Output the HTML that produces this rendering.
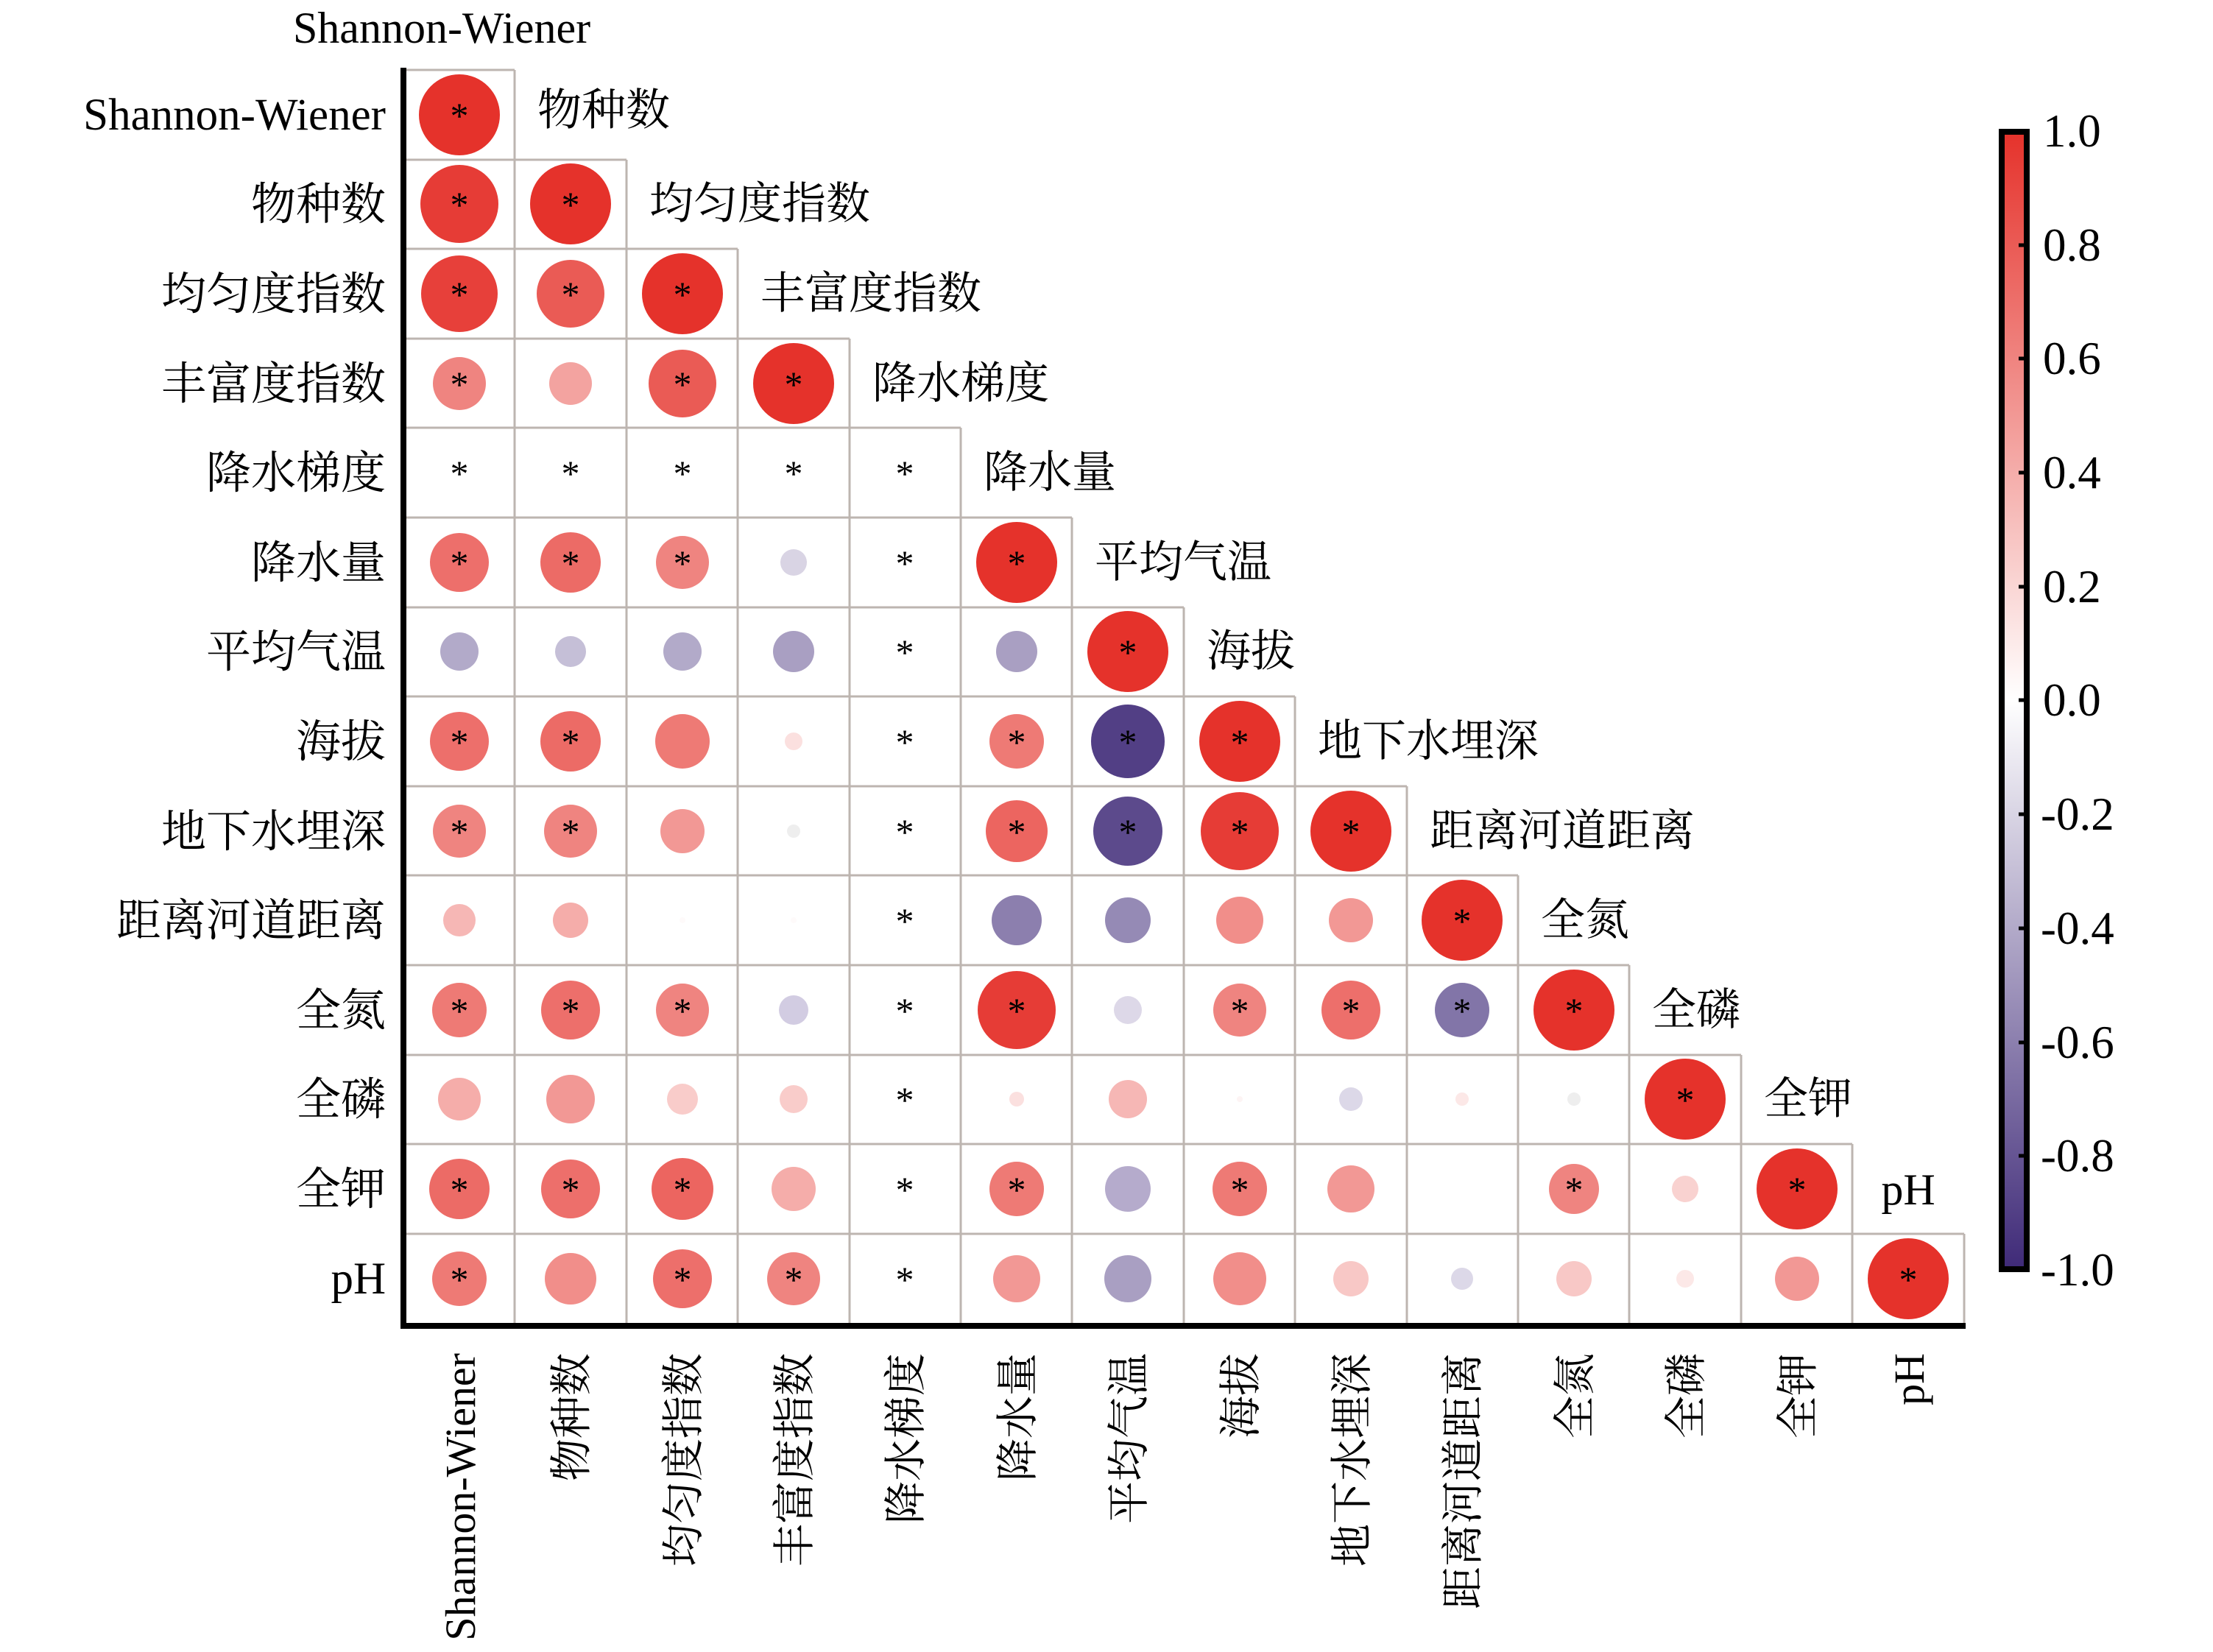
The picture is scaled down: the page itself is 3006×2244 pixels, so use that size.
<!DOCTYPE html>
<html><head><meta charset="utf-8"><style>
html,body{margin:0;padding:0;background:#fff}
svg{display:block}
text{font-family:"Liberation Serif","Noto Serif CJK SC",serif;fill:#000}
.s{font-size:50px;text-anchor:middle}
.l{font-size:61px;text-anchor:end}
.d{font-size:60px}
.b{font-size:58px;text-anchor:end}
.c{font-size:63px}
</style></head><body>
<svg width="3006" height="2244" viewBox="0 0 3006 2244" xmlns="http://www.w3.org/2000/svg">
<defs><linearGradient id="g" x1="0" y1="0" x2="0" y2="1">
<stop offset="0" stop-color="#e5322b"/><stop offset="0.5" stop-color="#ffffff"/><stop offset="1" stop-color="#3f2a78"/></linearGradient></defs>
<g stroke="#bdb5b0" stroke-width="3" fill="none">
<line x1="548" y1="95" x2="699" y2="95"/><line x1="548" y1="217" x2="851" y2="217"/><line x1="548" y1="338" x2="1002" y2="338"/><line x1="548" y1="460" x2="1154" y2="460"/><line x1="548" y1="581" x2="1305" y2="581"/><line x1="548" y1="703" x2="1456" y2="703"/><line x1="548" y1="825" x2="1608" y2="825"/><line x1="548" y1="946" x2="1759" y2="946"/><line x1="548" y1="1068" x2="1911" y2="1068"/><line x1="548" y1="1189" x2="2062" y2="1189"/><line x1="548" y1="1311" x2="2213" y2="1311"/><line x1="548" y1="1433" x2="2365" y2="1433"/><line x1="548" y1="1554" x2="2516" y2="1554"/><line x1="548" y1="1676" x2="2668" y2="1676"/>
<line x1="699" y1="95" x2="699" y2="1800"/><line x1="851" y1="217" x2="851" y2="1800"/><line x1="1002" y1="338" x2="1002" y2="1800"/><line x1="1154" y1="460" x2="1154" y2="1800"/><line x1="1305" y1="581" x2="1305" y2="1800"/><line x1="1456" y1="703" x2="1456" y2="1800"/><line x1="1608" y1="825" x2="1608" y2="1800"/><line x1="1759" y1="946" x2="1759" y2="1800"/><line x1="1911" y1="1068" x2="1911" y2="1800"/><line x1="2062" y1="1189" x2="2062" y2="1800"/><line x1="2213" y1="1311" x2="2213" y2="1800"/><line x1="2365" y1="1433" x2="2365" y2="1800"/><line x1="2516" y1="1554" x2="2516" y2="1800"/><line x1="2668" y1="1676" x2="2668" y2="1800"/>
</g>
<line x1="548" y1="92" x2="548" y2="1805" stroke="#000" stroke-width="8"/>
<line x1="544" y1="1801" x2="2670" y2="1801" stroke="#000" stroke-width="8"/>
<g>
<circle cx="624" cy="156" r="55" fill="#e5322b"/>
<circle cx="624" cy="277" r="53" fill="#e63c36"/><circle cx="775" cy="277" r="55" fill="#e5322b"/>
<circle cx="624" cy="399" r="52" fill="#e7403a"/><circle cx="775" cy="399" r="46" fill="#ea5b55"/><circle cx="927" cy="399" r="55" fill="#e5322b"/>
<circle cx="624" cy="521" r="36" fill="#ef8480"/><circle cx="775" cy="521" r="29" fill="#f3a3a0"/><circle cx="927" cy="521" r="46" fill="#ea5b55"/><circle cx="1078" cy="521" r="55" fill="#e5322b"/>
<circle cx="624" cy="764" r="40" fill="#ed6f6b"/><circle cx="775" cy="764" r="41" fill="#ec6b66"/><circle cx="927" cy="764" r="36" fill="#ef8480"/><circle cx="1078" cy="764" r="18" fill="#d9d4e4"/><circle cx="1381" cy="764" r="55" fill="#e5322b"/>
<circle cx="624" cy="885" r="26" fill="#b2aac9"/><circle cx="775" cy="885" r="21" fill="#c5bfd7"/><circle cx="927" cy="885" r="26" fill="#b2aac9"/><circle cx="1078" cy="885" r="28" fill="#a99fc2"/><circle cx="1381" cy="885" r="28" fill="#a99fc2"/><circle cx="1532" cy="885" r="55" fill="#e5322b"/>
<circle cx="624" cy="1007" r="40" fill="#ed6f6b"/><circle cx="775" cy="1007" r="41" fill="#ec6b66"/><circle cx="927" cy="1007" r="37" fill="#ee7a75"/><circle cx="1078" cy="1007" r="12" fill="#fbe0df"/><circle cx="1381" cy="1007" r="37" fill="#ee7a75"/><circle cx="1532" cy="1007" r="50" fill="#523f85"/><circle cx="1684" cy="1007" r="55" fill="#e5322b"/>
<circle cx="624" cy="1129" r="36" fill="#ef8480"/><circle cx="775" cy="1129" r="36" fill="#ef8480"/><circle cx="927" cy="1129" r="30" fill="#f29895"/><circle cx="1078" cy="1129" r="9" fill="#eeeeee"/><circle cx="1381" cy="1129" r="42" fill="#ec6560"/><circle cx="1532" cy="1129" r="47" fill="#5c4a8c"/><circle cx="1684" cy="1129" r="53" fill="#e63c36"/><circle cx="1835" cy="1129" r="55" fill="#e5322b"/>
<circle cx="624" cy="1250" r="22" fill="#f6b7b5"/><circle cx="775" cy="1250" r="24" fill="#f5adaa"/><circle cx="927" cy="1250" r="4" fill="#fefafa"/><circle cx="1078" cy="1250" r="4" fill="#fefafa"/><circle cx="1381" cy="1250" r="34" fill="#8c7fae"/><circle cx="1532" cy="1250" r="31" fill="#958ab5"/><circle cx="1684" cy="1250" r="32" fill="#f18e8a"/><circle cx="1835" cy="1250" r="30" fill="#f29895"/><circle cx="1986" cy="1250" r="55" fill="#e5322b"/>
<circle cx="624" cy="1372" r="37" fill="#ee7a75"/><circle cx="775" cy="1372" r="40" fill="#ed6f6b"/><circle cx="927" cy="1372" r="36" fill="#ef8480"/><circle cx="1078" cy="1372" r="20" fill="#d2cce2"/><circle cx="1381" cy="1372" r="53" fill="#e63c36"/><circle cx="1532" cy="1372" r="19" fill="#ddd8e8"/><circle cx="1684" cy="1372" r="36" fill="#ef8480"/><circle cx="1835" cy="1372" r="40" fill="#ed6f6b"/><circle cx="1986" cy="1372" r="37" fill="#8275a8"/><circle cx="2138" cy="1372" r="55" fill="#e5322b"/>
<circle cx="624" cy="1493" r="29" fill="#f5adaa"/><circle cx="775" cy="1493" r="33" fill="#f29895"/><circle cx="927" cy="1493" r="21" fill="#f9ccca"/><circle cx="1078" cy="1493" r="19" fill="#f9ccca"/><circle cx="1381" cy="1493" r="10" fill="#fbe0df"/><circle cx="1532" cy="1493" r="26" fill="#f6b7b5"/><circle cx="1684" cy="1493" r="4" fill="#fdf4f4"/><circle cx="1835" cy="1493" r="16" fill="#dcd8e8"/><circle cx="1986" cy="1493" r="9" fill="#fce8e7"/><circle cx="2138" cy="1493" r="9" fill="#eeeeee"/><circle cx="2289" cy="1493" r="55" fill="#e5322b"/>
<circle cx="624" cy="1615" r="41" fill="#ec6b66"/><circle cx="775" cy="1615" r="40" fill="#ed6f6b"/><circle cx="927" cy="1615" r="42" fill="#ec6560"/><circle cx="1078" cy="1615" r="30" fill="#f5adaa"/><circle cx="1381" cy="1615" r="37" fill="#ee7a75"/><circle cx="1532" cy="1615" r="31" fill="#b5abcc"/><circle cx="1684" cy="1615" r="37" fill="#ee7a75"/><circle cx="1835" cy="1615" r="32" fill="#f29895"/><circle cx="2138" cy="1615" r="34" fill="#ef8480"/><circle cx="2289" cy="1615" r="18" fill="#f9d2d0"/><circle cx="2441" cy="1615" r="55" fill="#e5322b"/>
<circle cx="624" cy="1737" r="37" fill="#ee7a75"/><circle cx="775" cy="1737" r="35" fill="#f18e8a"/><circle cx="927" cy="1737" r="40" fill="#ed6f6b"/><circle cx="1078" cy="1737" r="36" fill="#ef8480"/><circle cx="1381" cy="1737" r="32" fill="#f29895"/><circle cx="1532" cy="1737" r="32" fill="#a99fc2"/><circle cx="1684" cy="1737" r="36" fill="#f18e8a"/><circle cx="1835" cy="1737" r="24" fill="#f8c8c6"/><circle cx="1986" cy="1737" r="15" fill="#dcd8e8"/><circle cx="2138" cy="1737" r="24" fill="#f8c8c6"/><circle cx="2289" cy="1737" r="12" fill="#fce8e7"/><circle cx="2441" cy="1737" r="30" fill="#f29895"/><circle cx="2592" cy="1737" r="55" fill="#e5322b"/>
</g>
<g class="s">
<text x="624" y="174">*</text>
<text x="624" y="295">*</text><text x="775" y="295">*</text>
<text x="624" y="417">*</text><text x="775" y="417">*</text><text x="927" y="417">*</text>
<text x="624" y="539">*</text><text x="927" y="539">*</text><text x="1078" y="539">*</text>
<text x="624" y="660">*</text><text x="775" y="660">*</text><text x="927" y="660">*</text><text x="1078" y="660">*</text><text x="1229" y="660">*</text>
<text x="624" y="782">*</text><text x="775" y="782">*</text><text x="927" y="782">*</text><text x="1229" y="782">*</text><text x="1381" y="782">*</text>
<text x="1229" y="903">*</text><text x="1532" y="903">*</text>
<text x="624" y="1025">*</text><text x="775" y="1025">*</text><text x="1229" y="1025">*</text><text x="1381" y="1025">*</text><text x="1532" y="1025">*</text><text x="1684" y="1025">*</text>
<text x="624" y="1147">*</text><text x="775" y="1147">*</text><text x="1229" y="1147">*</text><text x="1381" y="1147">*</text><text x="1532" y="1147">*</text><text x="1684" y="1147">*</text><text x="1835" y="1147">*</text>
<text x="1229" y="1268">*</text><text x="1986" y="1268">*</text>
<text x="624" y="1390">*</text><text x="775" y="1390">*</text><text x="927" y="1390">*</text><text x="1229" y="1390">*</text><text x="1381" y="1390">*</text><text x="1684" y="1390">*</text><text x="1835" y="1390">*</text><text x="1986" y="1390">*</text><text x="2138" y="1390">*</text>
<text x="1229" y="1511">*</text><text x="2289" y="1511">*</text>
<text x="624" y="1633">*</text><text x="775" y="1633">*</text><text x="927" y="1633">*</text><text x="1229" y="1633">*</text><text x="1381" y="1633">*</text><text x="1684" y="1633">*</text><text x="2138" y="1633">*</text><text x="2441" y="1633">*</text>
<text x="624" y="1755">*</text><text x="927" y="1755">*</text><text x="1078" y="1755">*</text><text x="1229" y="1755">*</text><text x="2592" y="1755">*</text>
</g>
<g class="l">
<text x="524" y="176">Shannon-Wiener</text>
<text x="524" y="298">物种数</text>
<text x="524" y="420">均匀度指数</text>
<text x="524" y="542">丰富度指数</text>
<text x="524" y="663">降水梯度</text>
<text x="524" y="785">降水量</text>
<text x="524" y="906">平均气温</text>
<text x="524" y="1028">海拔</text>
<text x="524" y="1150">地下水埋深</text>
<text x="524" y="1271">距离河道距离</text>
<text x="524" y="1393">全氮</text>
<text x="524" y="1514">全磷</text>
<text x="524" y="1636">全钾</text>
<text x="524" y="1757">pH</text>
</g>
<text class="d" x="600" y="58" text-anchor="middle">Shannon-Wiener</text>
<g class="d">
<text x="730" y="170">物种数</text>
<text x="882" y="297">均匀度指数</text>
<text x="1033" y="419">丰富度指数</text>
<text x="1185" y="541">降水梯度</text>
<text x="1336" y="662">降水量</text>
<text x="1487" y="784">平均气温</text>
<text x="1639" y="905">海拔</text>
<text x="1790" y="1027">地下水埋深</text>
<text x="1942" y="1149">距离河道距离</text>
<text x="2093" y="1270">全氮</text>
<text x="2244" y="1392">全磷</text>
<text x="2396" y="1513">全钾</text>
<text x="2592" y="1636" text-anchor="middle">pH</text>
</g>
<g class="b">
<text transform="translate(645,1838) rotate(-90)">Shannon-Wiener</text>
<text transform="translate(796,1838) rotate(-90)">物种数</text>
<text transform="translate(948,1838) rotate(-90)">均匀度指数</text>
<text transform="translate(1099,1838) rotate(-90)">丰富度指数</text>
<text transform="translate(1250,1838) rotate(-90)">降水梯度</text>
<text transform="translate(1402,1838) rotate(-90)">降水量</text>
<text transform="translate(1553,1838) rotate(-90)">平均气温</text>
<text transform="translate(1705,1838) rotate(-90)">海拔</text>
<text transform="translate(1856,1838) rotate(-90)">地下水埋深</text>
<text transform="translate(2007,1838) rotate(-90)">距离河道距离</text>
<text transform="translate(2159,1838) rotate(-90)">全氮</text>
<text transform="translate(2310,1838) rotate(-90)">全磷</text>
<text transform="translate(2462,1838) rotate(-90)">全钾</text>
<text transform="translate(2613,1838) rotate(-90)">pH</text>
</g>
<rect x="2719" y="179" width="34" height="1545" fill="url(#g)" stroke="#000" stroke-width="8"/>
<g stroke="#000" stroke-width="5">
<line x1="2742" y1="333" x2="2753" y2="333"/><line x1="2742" y1="487" x2="2753" y2="487"/><line x1="2742" y1="642" x2="2753" y2="642"/><line x1="2742" y1="797" x2="2753" y2="797"/><line x1="2742" y1="951" x2="2753" y2="951"/><line x1="2742" y1="1106" x2="2753" y2="1106"/><line x1="2742" y1="1261" x2="2753" y2="1261"/><line x1="2742" y1="1416" x2="2753" y2="1416"/><line x1="2742" y1="1570" x2="2753" y2="1570"/>
</g>
<g class="c">
<text x="2775" y="199">1.0</text>
<text x="2775" y="354">0.8</text>
<text x="2775" y="508">0.6</text>
<text x="2775" y="663">0.4</text>
<text x="2775" y="818">0.2</text>
<text x="2775" y="972">0.0</text>
<text x="2772" y="1127">-0.2</text>
<text x="2772" y="1282">-0.4</text>
<text x="2772" y="1437">-0.6</text>
<text x="2772" y="1591">-0.8</text>
<text x="2772" y="1746">-1.0</text>
</g>
</svg>
</body></html>
